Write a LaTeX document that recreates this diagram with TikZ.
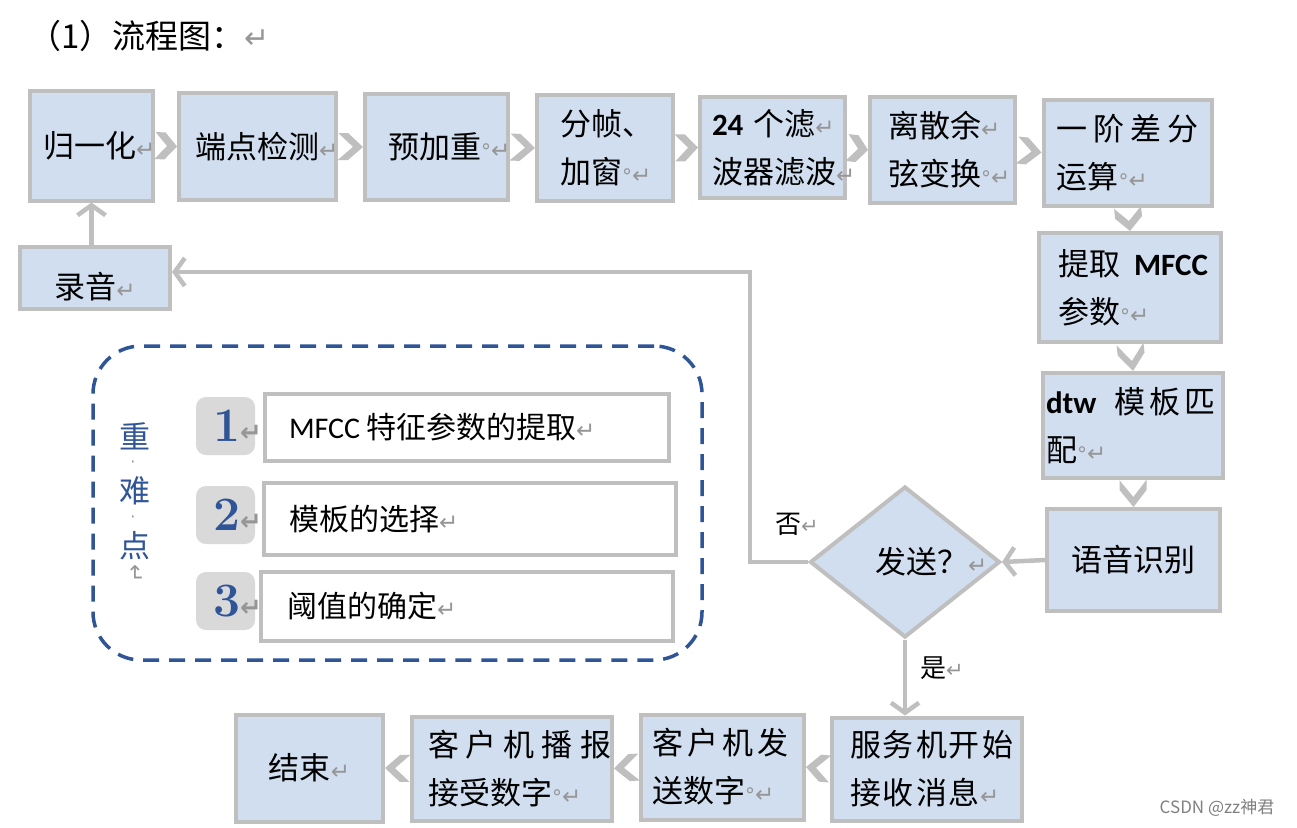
\documentclass[tikz,border=0pt]{standalone}
\usepackage{fontspec}
\usepackage{graphicx}
\usetikzlibrary{arrows.meta,shapes.geometric,calc}
\newfontfamily\cjk{Noto Sans CJK SC}
\newfontfamily\cali{Carlito}
\newfontfamily\dv{DejaVu Sans}
\definecolor{boxfill}{RGB}{208,222,239}
\definecolor{boxline}{RGB}{191,191,191}
\definecolor{rtgray}{RGB}{150,150,150}
\definecolor{navy}{RGB}{47,85,151}
\definecolor{badgegray}{RGB}{217,217,217}
\newcommand\retm[1][23]{{\dv\fontsize{#1}{#1}\selectfont\color{rtgray}\char"21B5}}
\newcommand\dgm{{\dv\fontsize{20}{20}\selectfont\color{rtgray}\char"00B0}}
\tikzset{
 box/.style={draw=boxline, line width=4pt, fill=boxfill, inner sep=0pt, font=\cjk\fontsize{31}{48}\selectfont, align=left},
 chev/.style={draw=none, fill=boxline, to path={
   (\tikztotarget)
   -- ($(\tikztostart)!10pt!(\tikztotarget)!13.5pt!90:(\tikztotarget)$)
   -- ($(\tikztostart)!13.5pt!90:(\tikztotarget)$)
   -- ($(\tikztotarget)!10pt!(\tikztostart)$)
   -- ($(\tikztostart)!13.5pt!-90:(\tikztotarget)$)
   -- ($(\tikztostart)!10pt!(\tikztotarget)!13.5pt!-90:(\tikztotarget)$)
   -- cycle}},
 barb/.style={draw=boxline, line width=4.5pt, -{Straight Barb[length=10pt,width=28pt]}},
 wbox/.style={draw=boxline, line width=4pt, fill=white, inner sep=0pt, font=\cjk\fontsize{30}{30}\selectfont, align=left},
 badge/.style={fill=badgegray, rounded corners=10pt, minimum width=59pt, minimum height=58pt, inner sep=0pt, text width=25pt, align=left, text=navy, font=\fontsize{48}{48}\selectfont\bfseries},
 lab/.style={font=\cjk\fontsize{26}{26}\selectfont, inner sep=0pt},
 kfont/.style={font=\cjk\fontsize{31}{31}\selectfont, text=navy, inner sep=0pt},
 kdot/.style={inner sep=0pt, font=\dv\fontsize{16}{16}\selectfont, text=rtgray},
}
\begin{document}
\begin{tikzpicture}[x=1pt,y=-1pt]
\useasboundingbox (0,0) rectangle (1297,827);
\fill[white] (0,0) rectangle (1297,827);
% title
\node[font=\cjk\fontsize{33}{33}\selectfont, anchor=west, inner sep=0pt] (title) at (28,36) {（1）流程图：\retm[30]};
% top row
\node[box, minimum width=123pt, minimum height=110pt, text width=97pt] (A) at (91.5,145.5) {归一化\retm};
\node[box, minimum width=157pt, minimum height=107pt, text width=125pt] (B) at (257.5,146.5) {端点检测\retm};
\node[box, minimum width=143pt, minimum height=106pt, text width=97pt] (C) at (436.5,147) {预加重\dgm\retm};
\node[box, minimum width=136pt, minimum height=106pt, text width=90pt] (D) at (605,148) {分帧、\\加窗\dgm\retm};
\node[box, minimum width=145pt, minimum height=101pt, text width=121pt] (E) at (772.5,147.5) {{\cali\bfseries 24}\kern10pt 个滤\retm\\波器滤波\retm};
\node[box, minimum width=145pt, minimum height=106pt, text width=109pt] (F) at (942.5,150) {离散余\retm\\弦变换\dgm\retm};
\node[box, minimum width=168pt, minimum height=106pt, text width=142pt] (G) at (1127.5,152.5) {一\kern6pt 阶\kern6pt 差\kern6pt 分\\运算\dgm\retm};
\node[box, minimum width=182pt, minimum height=109pt, text width=144pt] (H) at (1130,287.5) {提取\kern14pt{\cali\bfseries MFCC}\\参数\dgm\retm};
\node[box, minimum width=180pt, minimum height=105pt, text width=174pt] (I) at (1133,425.5) {{\cali\bfseries dtw}\kern18pt 模\kern4pt 板\kern4pt 匹\\配\dgm\retm};
\node[box, minimum width=173pt, minimum height=102pt, align=center] (J) at (1133.5,560) {语音识别};
\node[box, shape=diamond, minimum width=190pt, minimum height=151pt, text width=60pt] (K) at (905,562) {发送？\retm};
% bottom row
\node[box, minimum width=190pt, minimum height=103pt, text width=154pt] (L) at (927,769) {服\kern2pt 务\kern2pt 机\kern2pt 开\kern2pt 始\\接\kern2pt 收\kern2pt 消\kern2pt 息\retm};
\node[box, minimum width=163pt, minimum height=105pt, text width=141pt] (M) at (722.5,767) {客\kern4pt 户\kern4pt 机\kern4pt 发\\送数字\dgm\retm};
\node[box, minimum width=200pt, minimum height=104pt, text width=168pt] (N) at (512,768.5) {客\kern7pt 户\kern7pt 机\kern7pt 播\kern7pt 报\\接受数字\dgm\retm};
\node[box, minimum width=147pt, minimum height=107pt, align=center] (O) at (309.5,768) {结束\retm};
\node[box, minimum width=150pt, minimum height=62pt, align=center, text height=44pt, text depth=4pt] (P) at (95,278) {录音\retm};
% labels
\node[lab] (no) at (797,524) {否\retm[21]};
\node[lab] (yes) at (942,668) {是\retm[21]};
% legend
\node[draw=navy, line width=3.5pt, dash pattern=on 16pt off 10pt, rounded corners=48pt, minimum width=609pt, minimum height=314pt, inner sep=0pt] (leg) at (397.5,503) {};
\node[wbox, minimum width=404pt, minimum height=67pt, text width=356pt] (w1) at (467,427.5) {{\cali MFCC}\kern6pt 特征参数的提取\retm};
\node[wbox, minimum width=412pt, minimum height=72pt, text width=362pt] (w2) at (470,519) {模板的选择\retm};
\node[wbox, minimum width=412pt, minimum height=69pt, text width=360pt] (w3) at (467,606.5) {阈值的确定\retm};
\node[badge] (b1) at (225.5,426) {1\retm[26]};
\node[badge] (b2) at (225.5,515) {2\retm[26]};
\node[badge] (b3) at (225.5,601) {3\retm[26]};
\node[kfont] (k1) at (135,436) {重};
\node[kdot] (k2) at (133,464) {·};
\node[kfont] (k3) at (135,491) {难};
\node[kdot] (k4) at (133,519) {·};
\node[kfont] (k5) at (135,546) {点};
\node[inner sep=0pt] (k6) at (135,574) {\rotatebox{-90}{\retm[22]}};
% watermark
\node[font=\cjk\fontsize{17}{17}\selectfont, text=gray, inner sep=0pt] (wm) at (1217,808) {CSDN @zz神君};
% chevron connectors
\draw[chev] (A.east) to (B.west);
\draw[chev] (B.east) to (C.west);
\draw[chev] (C.east) to (D.west);
\draw[chev] (D.east) to (E.west);
\draw[chev] (E.east) to (F.west);
\draw[chev] (F.east) to (G.west);
\draw[chev] (G.south) to (H.north);
\draw[chev] (H.south) to (I.north);
\draw[chev] (I.south) to (J.north);
\draw[chev] (L.west) to (M.east);
\draw[chev] (M.west) to (N.east);
\draw[chev] (N.west) to (O.east);
% barb connectors
\coordinate (cn) at (750,272);
\draw[barb] (A.south |- P.north) -- (A.south);
\draw[barb] (K.west) -| (cn) -- (cn -| P.east);
\draw[barb] (J.west) -- (K.east);
\draw[barb] (K.south) -- (K.south |- L.north);
\end{tikzpicture}
\end{document}
